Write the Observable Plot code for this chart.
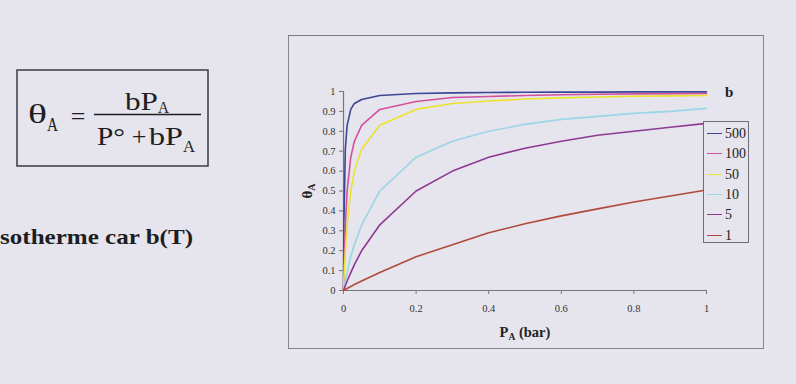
<!DOCTYPE html>
<html><head><meta charset="utf-8">
<script src="https://cdn.jsdelivr.net/npm/d3@7"></script>
<script src="https://cdn.jsdelivr.net/npm/@observablehq/plot@0.6"></script>
<style>
html,body{margin:0;padding:0;}
body{background:#e6e4ec;width:796px;height:384px;overflow:hidden;position:relative;font-family:"Liberation Serif","Times New Roman",serif;}
#left{position:absolute;left:0;top:0;}
#box{position:absolute;left:288px;top:35px;width:476px;height:314px;border:1px solid #85858f;border-top:1.5px solid #7a7a84;box-sizing:border-box;}
#chart{position:absolute;left:288px;top:35px;}
#legend{position:absolute;left:703px;top:121px;width:46px;height:122px;border:1px solid #6e6e78;box-sizing:border-box;background:#e6e4ec;}
.item{position:absolute;left:0;height:20px;width:44px;}
.item .sw{position:absolute;left:3px;top:9px;width:15px;height:0;border-top:1.6px solid;}
.item .lb{position:absolute;left:21px;top:1px;font-size:14px;line-height:18px;color:#222;}
#btitle{position:absolute;left:725px;top:84px;font-size:15px;font-weight:bold;color:#222;}
</style></head>
<body>
<svg id="left" width="285" height="384"></svg>
<div id="box"></div>
<div id="chart"></div>
<div id="btitle">b</div>
<div id="legend"></div>
<script>
// Data
const pressures = [0, 0.001, 0.005, 0.01, 0.02, 0.03, 0.05, 0.1, 0.2, 0.3, 0.4, 0.5, 0.6, 0.7, 0.8, 0.9, 1];
const bLabels = ["500", "100", "50", "10", "5", "1"];
const theta500 = [0, 0.33, 0.71, 0.83, 0.91, 0.94, 0.96, 0.98, 0.99, 0.993, 0.995, 0.996, 0.997, 0.997, 0.998, 0.998, 0.998];
const theta100 = [0, 0.09, 0.33, 0.5, 0.67, 0.75, 0.83, 0.91, 0.95, 0.97, 0.975, 0.98, 0.984, 0.986, 0.988, 0.989, 0.99];
const theta50 = [0, 0.05, 0.2, 0.33, 0.5, 0.6, 0.71, 0.83, 0.91, 0.94, 0.952, 0.962, 0.968, 0.972, 0.976, 0.978, 0.98];
const theta10 = [0, 0.01, 0.05, 0.09, 0.17, 0.23, 0.33, 0.5, 0.67, 0.75, 0.8, 0.835, 0.86, 0.875, 0.89, 0.9, 0.915];
const theta5 = [0, 0.005, 0.024, 0.048, 0.09, 0.13, 0.2, 0.33, 0.5, 0.6, 0.67, 0.715, 0.75, 0.78, 0.8, 0.82, 0.84];
const theta1 = [0, 0.001, 0.005, 0.01, 0.02, 0.03, 0.048, 0.09, 0.17, 0.23, 0.29, 0.335, 0.375, 0.41, 0.445, 0.475, 0.505];
const yTicks = [0, 0.1, 0.2, 0.3, 0.4, 0.5, 0.6, 0.7, 0.8, 0.9, 1];
const xTicks = [0, 0.2, 0.4, 0.6, 0.8, 1];
const colors = ["#3a4696", "#d2509c", "#ece22e", "#9ad6e6", "#8c3a92", "#b04a3a"];

const seriesValues = [theta500, theta100, theta50, theta10, theta5, theta1];
const rows = [];
bLabels.forEach((b, i) => pressures.forEach((p, j) => rows.push({b, p, theta: seriesValues[i][j]})));

const W = 476, H = 314;
const plot = Plot.plot({
  width: W, height: H,
  marginLeft: 55, marginRight: 58, marginTop: 56, marginBottom: 59,
  style: {background: "transparent", fontFamily: "'Liberation Serif', serif", fontSize: "10.5px", color: "#333"},
  x: {domain: [0, 1]},
  y: {domain: [0, 1]},
  color: {domain: bLabels, range: colors},
  marks: [
    Plot.axisY({ticks: yTicks, tickSize: 4, tickPadding: 4, tickFormat: d => String(+d.toFixed(1)), label: null, stroke: "#777"}),
    Plot.axisX({ticks: xTicks, tickSize: 4, tickPadding: 10, tickFormat: d => String(+d.toFixed(1)), label: null, stroke: "#777"}),
    Plot.ruleX([0], {stroke: "#777", strokeWidth: 1.2}),
    Plot.ruleY([0], {stroke: "#777", strokeWidth: 1.2}),
    Plot.line(rows, {x: "p", y: "theta", z: "b", stroke: "b", strokeWidth: 1.6, curve: "linear"})
  ]
});
document.getElementById("chart").appendChild(plot);

const svg = d3.select(plot);
// y axis title θA (rotated)
const yt = svg.append("text")
  .attr("transform", "translate(24,156) rotate(-90)")
  .attr("text-anchor", "middle")
  .attr("font-family", "'Liberation Serif', serif")
  .attr("font-weight", "bold")
  .attr("font-size", 15)
  .attr("fill", "#222");
yt.append("tspan").text("θ");
yt.append("tspan").attr("font-size", 10).attr("dy", 3).text("A");
// x axis title PA (bar)
const xt = svg.append("text")
  .attr("x", 237).attr("y", 302)
  .attr("text-anchor", "middle")
  .attr("font-family", "'Liberation Serif', serif")
  .attr("font-weight", "bold")
  .attr("font-size", 14.5)
  .attr("fill", "#222");
xt.append("tspan").text("P");
xt.append("tspan").attr("font-size", 9.5).attr("dy", 3).text("A");
xt.append("tspan").attr("dy", -3).text(" (bar)");

// legend
const legend = d3.select("#legend");
bLabels.forEach((b, i) => {
  const it = legend.append("div").attr("class", "item").style("top", (2 + i * 20.3) + "px");
  it.append("div").attr("class", "sw").style("border-top-color", colors[i]);
  it.append("div").attr("class", "lb").text(b);
});

// formula and caption on the left
const L = d3.select("#left");
L.append("rect").attr("x", 17).attr("y", 70).attr("width", 191).attr("height", 96)
  .attr("fill", "none").attr("stroke", "#3a3a40").attr("stroke-width", 1.5);
const F = "'Liberation Serif', serif";
function t(x, y, s, size, len) {
  const e = L.append("text").attr("x", x).attr("y", y).attr("font-family", F)
    .attr("font-size", size).attr("fill", "#1e1e22").text(s);
  if (len) e.attr("textLength", len).attr("lengthAdjust", "spacingAndGlyphs");
  return e;
}
t(28, 123, "θ", 28, 19);
t(47, 131, "A", 18, 11);
t(78, 125, "=", 26).attr("text-anchor", "middle");
L.append("line").attr("x1", 94).attr("x2", 201).attr("y1", 114.5).attr("y2", 114.5)
  .attr("stroke", "#1e1e22").attr("stroke-width", 1.4);
t(125, 110, "bP", 26, 33);
t(158, 113, "A", 17, 11);
t(97, 145, "P°", 26, 28);
t(139, 145, "+", 26).attr("text-anchor", "middle");
t(149, 145, "bP", 26, 34);
t(183, 152, "A", 17, 12);
t(0, 244, "sotherme car b(T)", 22, 193).attr("font-weight", "bold");
</script>
</body></html>
